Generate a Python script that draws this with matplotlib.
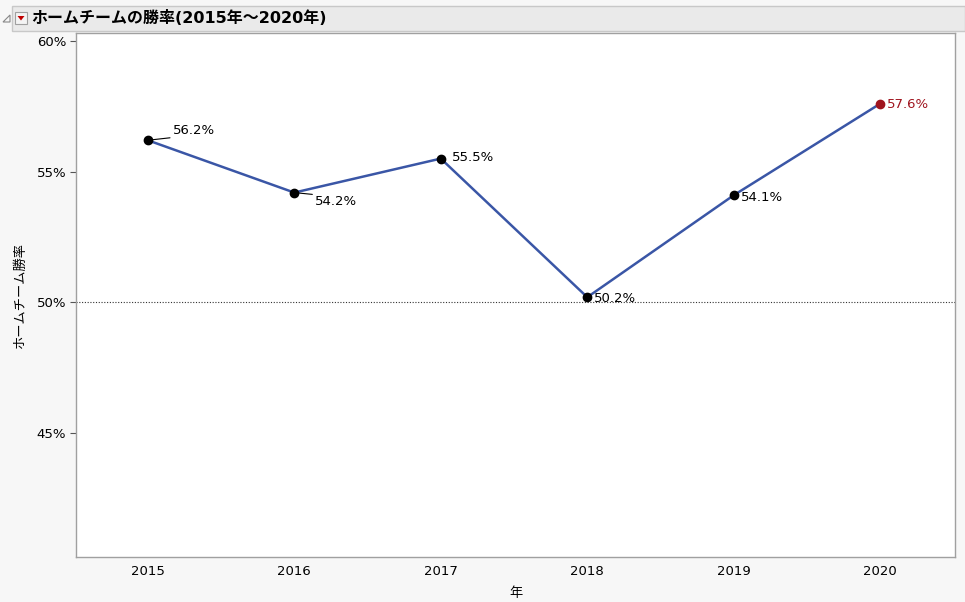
import matplotlib
matplotlib.use("Agg")
import matplotlib.pyplot as plt
from matplotlib.patches import Rectangle, Polygon

plt.rcParams['font.family'] = ['DejaVu Sans', 'Noto Sans CJK JP']

years = [2015, 2016, 2017, 2018, 2019, 2020]
win_rate = [56.2, 54.2, 55.5, 50.2, 54.1, 57.6]
title = "ホームチームの勝率(2015年～2020年)"
ylabel = "ホームチーム勝率"
xlabel = "年"
yticks = [45, 50, 55, 60]
ytick_labels = ["45%", "50%", "55%", "60%"]
ref_line = 50
highlight_year = 2020

# label offsets in points (dx, dy), vertical alignment, leader anchor
label_offsets = [(18, 2), (15, -1.5), (8, 0.5), (5, -0.8), (5, -1.5), (5, -0.8)]
label_va = ['bottom', 'top', 'center', 'center', 'center', 'center']
leaders = [(0, 0), (0, 1), None, None, None, None]

W, H = 965, 602
fig = plt.figure(figsize=(W / 100, H / 100), dpi=100)
fig.patch.set_facecolor('#f7f7f7')

# title bar
fig.patches.append(Rectangle((12 / W, 1 - 31 / H), (W - 12) / W, 25 / H,
                             transform=fig.transFigure, facecolor='#eaeaea',
                             edgecolor='#c8c8c8', linewidth=1))
# disclosure triangle
fig.patches.append(Polygon([(3 / W, 1 - 22 / H), (10 / W, 1 - 22 / H), (10 / W, 1 - 15 / H)],
                           closed=True, transform=fig.transFigure,
                           facecolor='none', edgecolor='#888888', linewidth=0.8))
# red menu icon
fig.patches.append(Rectangle((15 / W, 1 - 24 / H), 12 / W, 12 / H,
                             transform=fig.transFigure, facecolor='#f4f4f4',
                             edgecolor='#a0a0a0', linewidth=0.8))
fig.patches.append(Polygon([(17.5 / W, 1 - 16 / H), (24.5 / W, 1 - 16 / H), (21 / W, 1 - 20.5 / H)],
                           closed=True, transform=fig.transFigure,
                           facecolor='#c00000', edgecolor='none'))
fig.text(31 / W, 1 - 18 / H, title, fontsize=11.5, fontweight='bold',
         va='center', ha='left', color='black')

ax = fig.add_axes([76 / W, 1 - 557 / H, (955 - 76) / W, (557 - 33) / H])
ax.set_facecolor('white')
for s in ax.spines.values():
    s.set_color('#a0a0a0')
    s.set_linewidth(1)

ax.set_xlim(2014.51, 2020.51)
ax.set_ylim(40.27, 60.3)

ax.axhline(ref_line, color='#333333', linestyle=(0, (1, 1.5)), linewidth=0.8, zorder=1)

ax.plot(years, win_rate, color='#3a56a6', linewidth=1.8, zorder=2)
for x, y, (dx, dy), va, ld in zip(years, win_rate, label_offsets, label_va, leaders):
    c = '#a0141e' if x == highlight_year else 'black'
    ax.plot([x], [y], 'o', color=c, markersize=6, zorder=3)
    lbl = f"{y:.1f}%"
    kw = dict(xy=(x, y), xytext=(dx, dy), textcoords='offset points',
              fontsize=9.5, color=c, va=va, ha='left')
    if ld is not None:
        kw['arrowprops'] = dict(arrowstyle='-', color='black', linewidth=0.8,
                                shrinkA=0, shrinkB=0, relpos=ld)
    ax.annotate(lbl, **kw)

ax.set_xticks(years)
ax.set_xticklabels([str(y) for y in years], fontsize=9.5)
ax.tick_params(axis='x', length=0, pad=6)
ax.set_yticks(yticks)
ax.set_yticklabels(ytick_labels, fontsize=9.5)
ax.tick_params(axis='y', length=4, width=0.8, color='#555555', pad=3)

ax.set_xlabel(xlabel, fontsize=9.5, labelpad=6)
ax.set_ylabel(ylabel, fontsize=9.5, labelpad=7)

fig.savefig("out.png", dpi=100, facecolor=fig.get_facecolor())
